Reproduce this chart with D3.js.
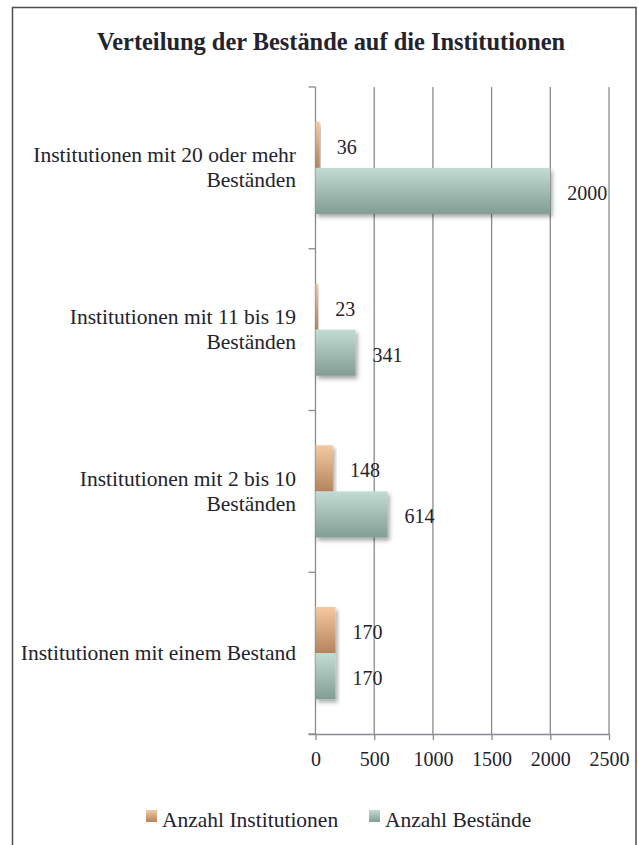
<!DOCTYPE html>
<html>
<head>
<meta charset="utf-8">
<script src="https://cdn.jsdelivr.net/npm/d3@7"></script>
<style>
  html, body { margin: 0; padding: 0; background: #ffffff; }
  svg { display: block; }
  text { font-family: "Liberation Serif", "Times New Roman", serif; fill: #23232d; }
</style>
</head>
<body>
<svg id="chart" width="638" height="845"></svg>
<script>
// ---- data ----
const title = "Verteilung der Bestände auf die Institutionen";
const categories = [
  "Institutionen mit 20 oder mehr Beständen",
  "Institutionen mit 11 bis 19 Beständen",
  "Institutionen mit 2 bis 10 Beständen",
  "Institutionen mit einem Bestand"
];
const seriesNames = ["Anzahl Institutionen", "Anzahl Bestände"];
const anzahlInstitutionen = [36, 23, 148, 170];
const anzahlBestaende = [2000, 341, 614, 170];
const xTicks = [0, 500, 1000, 1500, 2000, 2500];

// ---- layout ----
const svg = d3.select("#chart");
const plot = { left: 315.5, right: 609, top: 87, bottom: 734 };

const defs = svg.append("defs");
function grad(id, top, bottom) {
  const g = defs.append("linearGradient").attr("id", id)
    .attr("x1", 0).attr("y1", 0).attr("x2", 0).attr("y2", 1);
  g.append("stop").attr("offset", "0%").attr("stop-color", top);
  g.append("stop").attr("offset", "100%").attr("stop-color", bottom);
}
grad("gOrange", "#f4c9a1", "#b3845d");
grad("gGreen", "#c3dcd3", "#829d94");
const f = defs.append("filter").attr("id", "shadow")
  .attr("x", "-10%").attr("y", "-20%").attr("width", "130%").attr("height", "150%");
f.append("feDropShadow").attr("dx", 2).attr("dy", 3).attr("stdDeviation", 2.2)
  .attr("flood-color", "#000").attr("flood-opacity", 0.35);

// border
svg.append("rect").attr("x", 12.5).attr("y", 7.5).attr("width", 623.5).attr("height", 850)
  .attr("fill", "#fff").attr("stroke", "#4d4d4d").attr("stroke-width", 1.5);

// title
svg.append("text").attr("x", 331).attr("y", 50)
  .attr("text-anchor", "middle").attr("font-size", 24.4).attr("font-weight", "bold")
  .attr("fill", "#1c1c28").text(title);

const x = d3.scaleLinear().domain([0, 2500]).range([plot.left, plot.right]);
const y = d3.scaleBand().domain(categories).range([plot.top, plot.bottom])
  .paddingInner(0.43).paddingOuter(0.215);
const ySub = d3.scaleBand().domain(seriesNames).range([0, y.bandwidth()]);
const fills = { "Anzahl Institutionen": "url(#gOrange)", "Anzahl Bestände": "url(#gGreen)" };

// gridlines
svg.append("g").selectAll("line").data(xTicks.slice(1)).join("line")
  .attr("x1", d => x(d)).attr("x2", d => x(d))
  .attr("y1", plot.top).attr("y2", plot.bottom)
  .attr("stroke", "#8a8a93").attr("stroke-width", 1.3);

// x axis
const xAxis = svg.append("g").attr("transform", `translate(0,${plot.bottom})`)
  .call(d3.axisBottom(x).tickValues(xTicks).tickSize(6).tickPadding(12).tickFormat(d3.format("d")));
xAxis.select(".domain").attr("stroke", "#8a8a93").attr("stroke-width", 1.3)
  .attr("d", `M${plot.left - 7},0.5H${plot.right}`);
xAxis.selectAll(".tick line").attr("stroke", "#8a8a93").attr("stroke-width", 1.3);
xAxis.selectAll(".tick text").attr("font-size", 20).attr("fill", "#23232d")
  .attr("font-family", "Liberation Serif, serif");

// y axis line and ticks at band boundaries
const yAxisG = svg.append("g");
yAxisG.append("line").attr("x1", plot.left).attr("x2", plot.left)
  .attr("y1", plot.top).attr("y2", plot.bottom).attr("stroke", "#8a8a93").attr("stroke-width", 1.3);
const bounds = d3.range(categories.length + 1).map(i => plot.top + i * y.step());
yAxisG.selectAll("line.tk").data(bounds).join("line").attr("class", "tk")
  .attr("x1", plot.left - 7).attr("x2", plot.left)
  .attr("y1", d => d).attr("y2", d => d)
  .attr("stroke", "#8a8a93").attr("stroke-width", 1.3);

// category labels (wrapped like the original)
const lineSplits = categories.map(c => {
  const words = c.split(" ");
  const lines = [];
  let cur = "";
  words.forEach(w => {
    const t = cur ? cur + " " + w : w;
    if (t.length > 31) { lines.push(cur); cur = w; } else cur = t;
  });
  lines.push(cur);
  return lines;
});
categories.forEach((c, i) => {
  const lines = lineSplits[i];
  const cy = y(c) + y.bandwidth() / 2;
  const lh = 25;
  const t = svg.append("text").attr("text-anchor", "end").attr("font-size", 21.5)
    .attr("fill", "#2a2a35");
  lines.forEach((ln, j) => {
    t.append("tspan").attr("x", 296)
      .attr("y", cy + (j - (lines.length - 1) / 2) * lh + 7).text(ln);
  });
});

// bars
const rows = categories.map((c, i) => ({
  cat: c,
  vals: [
    { s: seriesNames[0], v: anzahlInstitutionen[i] },
    { s: seriesNames[1], v: anzahlBestaende[i] }
  ]
}));
const gBars = svg.append("g");
rows.forEach(r => {
  r.vals.forEach(d => {
    gBars.append("rect")
      .attr("x", x(0)).attr("y", y(r.cat) + ySub(d.s))
      .attr("width", x(d.v) - x(0)).attr("height", ySub.bandwidth())
      .attr("fill", fills[d.s]).attr("filter", "url(#shadow)");
  });
});
rows.forEach(r => {
  r.vals.forEach(d => {
    svg.append("text")
      .attr("x", x(d.v) + 17).attr("y", y(r.cat) + ySub(d.s) + ySub.bandwidth() / 2 + 9)
      .attr("font-size", 20).attr("fill", "#23232d").text(d.v);
  });
});

// legend
const lg = svg.append("g");
const legendFills = ["url(#gOrange)", "url(#gGreen)"];
const legendStarts = [146, 369];
seriesNames.forEach((s, i) => {
  const sx = legendStarts[i];
  lg.append("rect").attr("x", sx).attr("y", 810).attr("width", 11).attr("height", 12)
    .attr("fill", legendFills[i]);
  lg.append("text").attr("x", sx + 16).attr("y", 827).attr("font-size", 21.5)
    .attr("fill", "#2a2a35").text(s);
});
</script>
</body>
</html>
